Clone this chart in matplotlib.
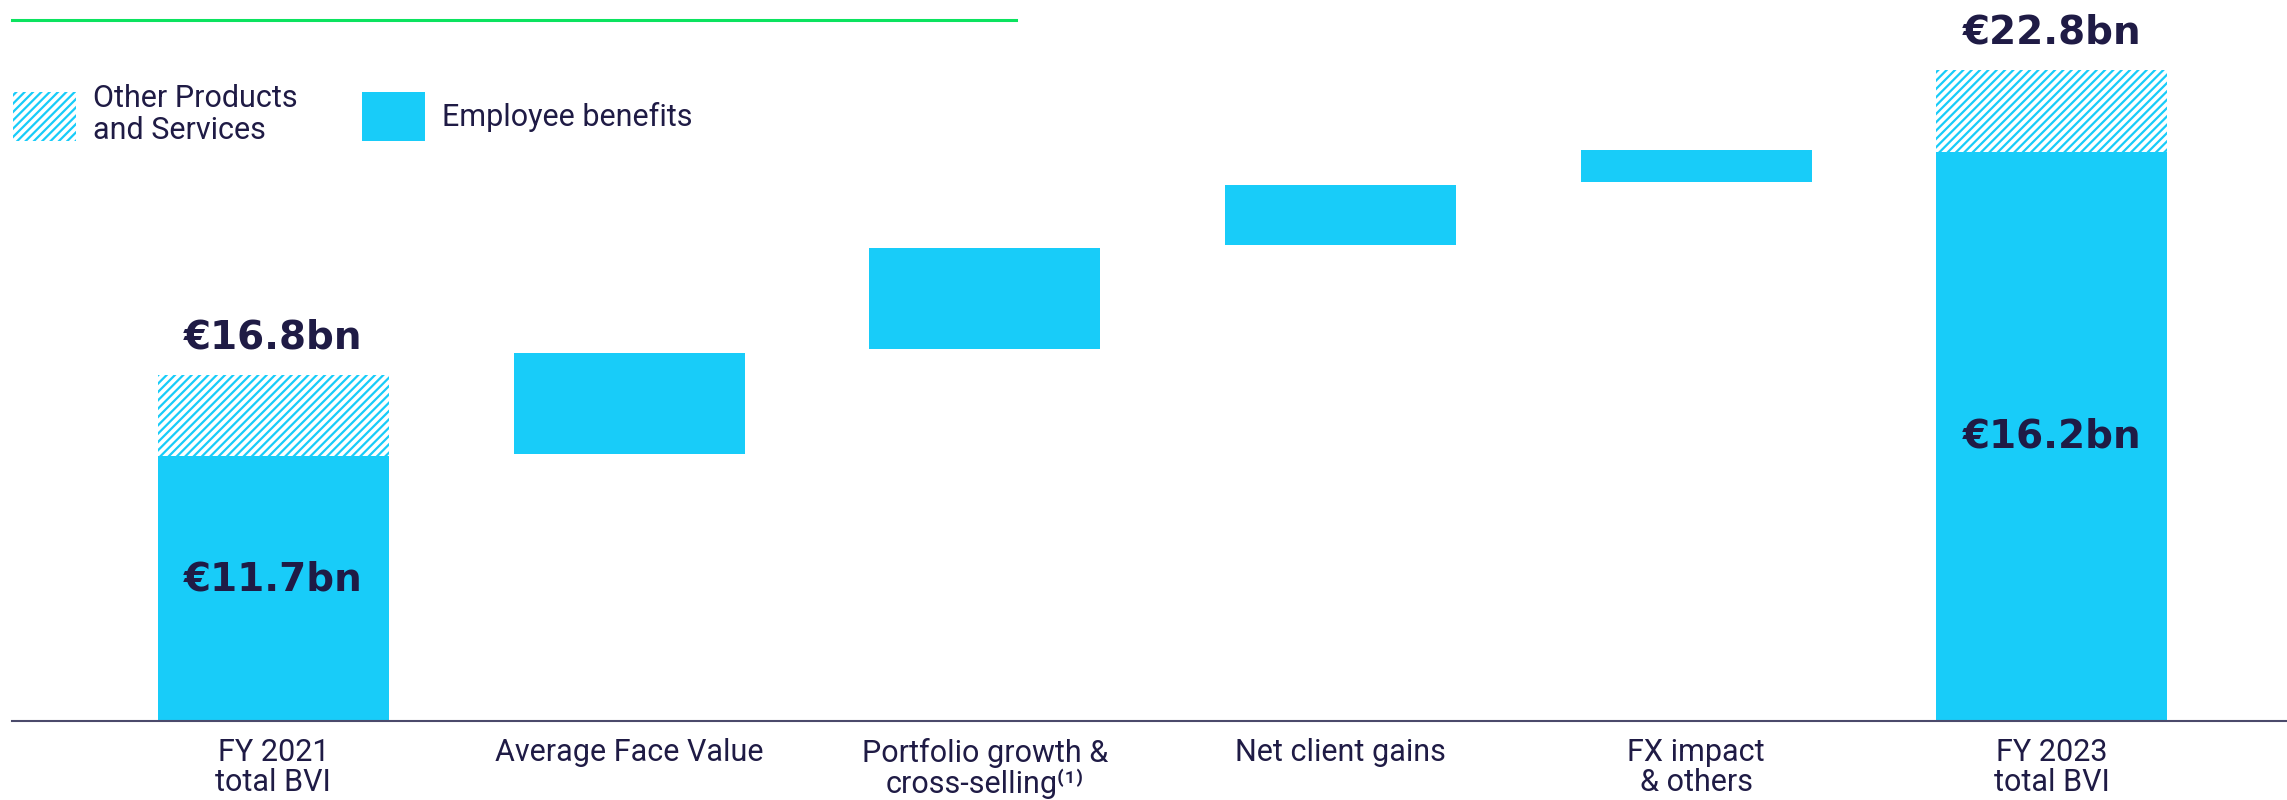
"""Business volume bridge FY 2021 -> FY 2023 (waterfall)."""
import matplotlib
matplotlib.use("Agg")
import matplotlib.pyplot as plt
from matplotlib.patches import Patch

# categories along the bridge
categories = ["FY 2021\ntotal BVI", "Average Face Value",
              "Portfolio growth &\ncross-selling\u207d\u00b9\u207e",
              "Net client gains", "FX impact\n& others",
              "FY 2023\ntotal BVI"]

# drawn heights (the original is not to scale, units = drawing units)
employee_2021 = 26.5
other_2021 = 8.1
step_bottom = [26.7, 37.2, 47.6, 53.9]
step_top = [36.8, 47.3, 53.6, 57.1]
employee_2023 = 56.9
other_2023 = 8.2

# printed values
total_labels = ["\u20ac16.8bn", "\u20ac22.8bn"]
employee_labels = ["\u20ac11.7bn", "\u20ac16.2bn"]

BLUE = "#18CCF9"
NAVY = "#1F1B45"
GREEN = "#0BE35F"
FONT = ["Roboto", "DejaVu Sans"]

plt.rcParams["font.family"] = FONT
plt.rcParams["hatch.linewidth"] = 1.6

W, H = 2287, 800
fig = plt.figure(figsize=(W / 100, H / 100), dpi=100)
ax = fig.add_axes([12 / W, 79 / H, 1 - 12 / W, 721 / H])

width = 0.65
x = list(range(len(categories)))

# totals: employee benefits + hatched other products
ax.bar([0, 5], [employee_2021, employee_2023], width=width, color=BLUE,
       linewidth=0)
ax.bar([0, 5], [other_2021, other_2023], width=width,
       bottom=[employee_2021, employee_2023], color="white",
       edgecolor=BLUE, hatch="////", linewidth=0)

# floating steps
steps_h = [t - b for t, b in zip(step_top, step_bottom)]
ax.bar(x[1:5], steps_h, bottom=step_bottom, width=width, color=BLUE,
       linewidth=0)

# labels
bold = dict(family="DejaVu Sans", fontsize=28, fontweight="bold",
            color=NAVY, ha="center", va="center")
tops = [employee_2021 + other_2021, employee_2023 + other_2023]
for xi, top, lab in zip([0, 5], tops, total_labels):
    ax.annotate(lab, (xi, top), textcoords="offset points", xytext=(0, 27),
                **bold)
for xi, h, frac, lab in zip([0, 5], [employee_2021, employee_2023],
                            [0.535, 0.5], employee_labels):
    ax.text(xi, h * frac, lab, **bold)

ax.set_xlim(-0.735, 5.661)
ax.set_ylim(0, 72.1)
ax.set_xticks(x)
ax.set_xticklabels(categories, fontsize=22, color=NAVY, linespacing=1.05,
                   va="top")
ax.tick_params(axis="x", length=0, pad=12)
ax.set_yticks([])
for side in ("top", "right", "left"):
    ax.spines[side].set_visible(False)
ax.spines["bottom"].set_color("#4B4A6B")
ax.spines["bottom"].set_linewidth(1.5)
ax.patch.set_alpha(0)

# green rule at the top left
fig.add_artist(plt.Line2D([12 / W, 1016 / W], [1 - 20 / H, 1 - 20 / H],
                          color=GREEN, linewidth=2.2))

handles = [Patch(facecolor="white", edgecolor=BLUE, hatch="////",
                 linewidth=0, label="Other Products\nand Services"),
           Patch(facecolor=BLUE, linewidth=0, label="Employee benefits")]
leg = fig.legend(handles=handles, loc="upper left",
                 bbox_to_anchor=(13 / W, 1 - 84 / H), ncol=2, frameon=False,
                 handlelength=2.06, handleheight=2.05,
                 handletextpad=0.56, columnspacing=2.1, labelcolor=NAVY,
                 borderaxespad=0, borderpad=0, labelspacing=0.2,
                 prop=dict(size=22))
for t in leg.get_texts():
    t.set_linespacing(1.15)

fig.savefig("out.png", dpi=100)
